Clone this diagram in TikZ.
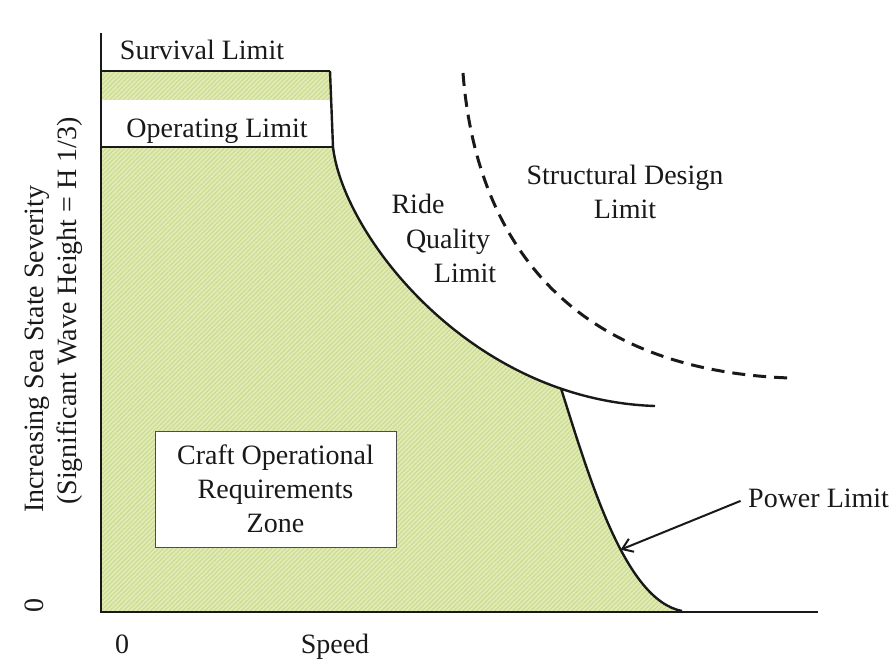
\documentclass[tikz,border=0pt]{standalone}
\usepackage{fontspec}
\setmainfont{Liberation Serif}
\usetikzlibrary{arrows.meta,patterns.meta}
\definecolor{zonegreen}{RGB}{224,235,180}
\definecolor{stripe}{RGB}{200,217,142}
\definecolor{ink}{RGB}{25,25,25}
\begin{document}
\begin{tikzpicture}[x=1pt,y=-1pt,
  lbl/.style={font=\fontsize{28}{34}\selectfont, text=ink, inner sep=0pt},
  limitline/.style={line width=2.4pt, draw=ink},
  axisline/.style={line width=2.2pt, draw=ink},
  dashcurve/.style={line width=3pt, draw=ink, dash pattern=on 13pt off 8pt},
  zonehatch/.style={preaction={fill=zonegreen}, pattern={Lines[angle=45,distance=3.2pt,line width=0.9pt]}, pattern color=stripe},
  reqbox/.style={draw=gray!60!black, line width=1pt, fill=white, minimum width=241pt, minimum height=116pt, align=center, font=\fontsize{28}{34}\selectfont, text=ink, inner sep=0pt},
  pointer/.style={line width=2pt, draw=ink, -{Straight Barb[length=10pt,width=14pt]}, shorten <=8pt}
]
\useasboundingbox (0,0) rectangle (893,662);
% key points
\coordinate (o) at (101,612);
\coordinate (ytop) at (101,33);
\coordinate (xend) at (818,612);
\coordinate (sv0) at (101,71);
\coordinate (sv1) at (330,71);
\coordinate (op0) at (101,147);
\coordinate (op1) at (333,147);
\coordinate (j) at (561.1,388.7);
\coordinate (rend) at (655,406);
\coordinate (pend) at (682,611);
\coordinate (ptip) at (620.6,549.7);
\coordinate (dstart) at (463,73);
\coordinate (dend) at (790,378);
% green zone
\path[zonehatch] (sv0) -- (sv1) -- (op1) .. controls (341.2,219.2) and (428.1,343.1) .. (j) .. controls (590,480) and (625,600) .. (pend) -- (o) -- cycle;
\fill[white] (101,100) rectangle (332,147);
% limit curves
\draw[limitline] (sv0) -- (sv1);
\draw[limitline] (op0) -- (op1);
\draw[limitline] (sv1) -- (op1) .. controls (341.2,219.2) and (428.1,343.1) .. (j) .. controls (590.3,398.7) and (621.7,404.9) .. (rend);
\draw[limitline] (j) .. controls (590,480) and (625,600) .. (pend);
\draw[dashcurve] (dstart) .. controls (475,230) and (560,370) .. (dend);
% axes
\draw[axisline] (ytop) -- (o) -- (xend);
% labels
\node[lbl, anchor=base] (surv) at (202,59) {Survival Limit};
\node[lbl, anchor=base] (oper) at (217,137) {Operating Limit};
\node[lbl, anchor=base] (ride) at (418,213) {Ride};
\node[lbl, anchor=base] (quality) at (448,248) {Quality};
\node[lbl, anchor=base] (ridelim) at (465,282) {Limit};
\node[lbl, anchor=base, align=center] (struct) at (625,218) {Structural Design\\Limit};
\node[lbl, anchor=base west] (pow) at (748,507) {Power Limit};
\node[reqbox] (zone) at (275.5,489) {Craft Operational\\Requirements\\Zone};
\node[lbl, anchor=base] (xzero) at (122,653) {0};
\node[lbl, anchor=base] (speed) at (335,653) {Speed};
\node[lbl, anchor=base, rotate=90] (yzero) at (43,605) {0};
\node[lbl, anchor=base west, rotate=90] (ylab1) at (43,513) {Increasing Sea State Severity};
\node[lbl, anchor=base west, rotate=90] (ylab2) at (76,505) {(Significant Wave Height = H 1/3)};
% pointer
\draw[pointer] (pow.west) -- (ptip);
\end{tikzpicture}
\end{document}
